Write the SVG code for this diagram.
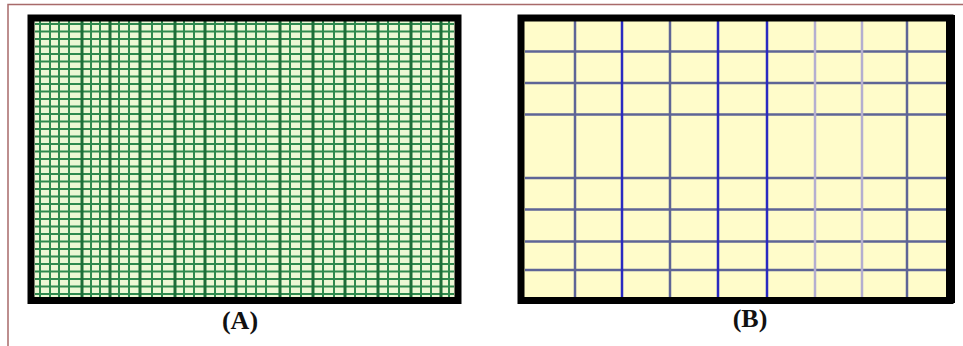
<svg xmlns="http://www.w3.org/2000/svg" width="963" height="346" viewBox="0 0 963 346">
<style>
.frame{fill:none;stroke:#a86a6a;stroke-width:1.5}
.border{fill:none;stroke:#000;}
.ga{stroke:#2f8a4e;stroke-width:2}
.gad{stroke:#1d6e38;stroke-width:3}
.bb{stroke:#2a2ac0;stroke-width:2.5}
.bs{stroke:#5e6496;stroke-width:2.5}
.bl{stroke:#b4aed0;stroke-width:2.5}
.lbl{font-family:"Liberation Serif","Times New Roman",serif;font-weight:bold;font-size:26px;text-anchor:middle;fill:#111}
</style>
<rect width="963" height="346" fill="#ffffff"/>
<path class="frame" d="M8,346 V4.5 H963"/>
<g id="panelA">
<rect x="31" y="18" width="427" height="282" fill="#ecf8d4"/>
<g id="gridA-h" class="ga">
<line x1="35" x2="454" y1="24" y2="24"/><line x1="35" x2="454" y1="31.5" y2="31.5"/><line x1="35" x2="454" y1="39" y2="39"/><line x1="35" x2="454" y1="46.5" y2="46.5"/><line x1="35" x2="454" y1="54" y2="54"/><line x1="35" x2="454" y1="61.5" y2="61.5"/><line x1="35" x2="454" y1="69" y2="69"/><line x1="35" x2="454" y1="76.5" y2="76.5"/><line x1="35" x2="454" y1="84" y2="84"/><line x1="35" x2="454" y1="91.5" y2="91.5"/><line x1="35" x2="454" y1="99" y2="99"/><line x1="35" x2="454" y1="106.5" y2="106.5"/><line x1="35" x2="454" y1="114" y2="114"/><line x1="35" x2="454" y1="121.5" y2="121.5"/><line x1="35" x2="454" y1="129" y2="129"/><line x1="35" x2="454" y1="136.5" y2="136.5"/><line x1="35" x2="454" y1="144" y2="144"/><line x1="35" x2="454" y1="151.5" y2="151.5"/><line x1="35" x2="454" y1="159" y2="159"/><line x1="35" x2="454" y1="166.5" y2="166.5"/><line x1="35" x2="454" y1="174" y2="174"/><line x1="35" x2="454" y1="181.5" y2="181.5"/><line x1="35" x2="454" y1="189" y2="189"/><line x1="35" x2="454" y1="196.5" y2="196.5"/><line x1="35" x2="454" y1="204" y2="204"/><line x1="35" x2="454" y1="211.5" y2="211.5"/><line x1="35" x2="454" y1="219" y2="219"/><line x1="35" x2="454" y1="226.5" y2="226.5"/><line x1="35" x2="454" y1="234" y2="234"/><line x1="35" x2="454" y1="241.5" y2="241.5"/><line x1="35" x2="454" y1="249" y2="249"/><line x1="35" x2="454" y1="256.5" y2="256.5"/><line x1="35" x2="454" y1="264" y2="264"/><line x1="35" x2="454" y1="271.5" y2="271.5"/><line x1="35" x2="454" y1="279" y2="279"/><line x1="35" x2="454" y1="286.5" y2="286.5"/><line x1="35" x2="454" y1="294" y2="294"/>
</g>
<g id="gridA-v">
<line class="ga" x1="40" x2="40" y1="20" y2="298"/><line class="ga" x1="50" x2="50" y1="20" y2="298"/><line class="ga" x1="59" x2="59" y1="20" y2="298"/><line class="ga" x1="69" x2="69" y1="20" y2="298"/><line class="gad" x1="82" x2="82" y1="20" y2="298"/><line class="ga" x1="91" x2="91" y1="20" y2="298"/><line class="ga" x1="100" x2="100" y1="20" y2="298"/><line class="gad" x1="110" x2="110" y1="20" y2="298"/><line class="ga" x1="119" x2="119" y1="20" y2="298"/><line class="ga" x1="129" x2="129" y1="20" y2="298"/><line class="gad" x1="140" x2="140" y1="20" y2="298"/><line class="ga" x1="152" x2="152" y1="20" y2="298"/><line class="ga" x1="162" x2="162" y1="20" y2="298"/><line class="gad" x1="175" x2="175" y1="20" y2="298"/><line class="ga" x1="184" x2="184" y1="20" y2="298"/><line class="ga" x1="194" x2="194" y1="20" y2="298"/><line class="gad" x1="205" x2="205" y1="20" y2="298"/><line class="ga" x1="215" x2="215" y1="20" y2="298"/><line class="ga" x1="225" x2="225" y1="20" y2="298"/><line class="gad" x1="236" x2="236" y1="20" y2="298"/><line class="ga" x1="246" x2="246" y1="20" y2="298"/><line class="ga" x1="256" x2="256" y1="20" y2="298"/><line class="ga" x1="266" x2="266" y1="20" y2="298"/><line class="gad" x1="280" x2="280" y1="20" y2="298"/><line class="ga" x1="290" x2="290" y1="20" y2="298"/><line class="ga" x1="301" x2="301" y1="20" y2="298"/><line class="gad" x1="313" x2="313" y1="20" y2="298"/><line class="ga" x1="323" x2="323" y1="20" y2="298"/><line class="ga" x1="334" x2="334" y1="20" y2="298"/><line class="gad" x1="345" x2="345" y1="20" y2="298"/><line class="ga" x1="355" x2="355" y1="20" y2="298"/><line class="ga" x1="366" x2="366" y1="20" y2="298"/><line class="gad" x1="378" x2="378" y1="20" y2="298"/><line class="ga" x1="388" x2="388" y1="20" y2="298"/><line class="ga" x1="399" x2="399" y1="20" y2="298"/><line class="gad" x1="411" x2="411" y1="20" y2="298"/><line class="ga" x1="421" x2="421" y1="20" y2="298"/><line class="ga" x1="431" x2="431" y1="20" y2="298"/><line class="gad" x1="441" x2="441" y1="20" y2="298"/><line class="ga" x1="449" x2="449" y1="20" y2="298"/>
</g>
<path class="border" d="M31,18 H458 V300.5 H31 Z" stroke-width="7"/>
<text class="lbl" x="240" y="329">(A)</text>
</g>
<g id="panelB">
<rect x="521" y="18" width="430" height="282" fill="#fffcca"/>
<g id="gridB-h" class="bs">
<line x1="525" x2="946" y1="51.5" y2="51.5"/><line x1="525" x2="946" y1="83" y2="83"/><line x1="525" x2="946" y1="114.5" y2="114.5"/><line x1="525" x2="946" y1="178" y2="178"/><line x1="525" x2="946" y1="209.5" y2="209.5"/><line x1="525" x2="946" y1="241.5" y2="241.5"/><line x1="525" x2="946" y1="270" y2="270"/>
</g>
<g id="gridB-v">
<line class="bs" x1="575" x2="575" y1="20" y2="298"/><line class="bb" x1="622" x2="622" y1="20" y2="298"/><line class="bs" x1="670" x2="670" y1="20" y2="298"/><line class="bb" x1="718" x2="718" y1="20" y2="298"/><line class="bb" x1="767" x2="767" y1="20" y2="298"/><line class="bl" x1="815" x2="815" y1="20" y2="298"/><line class="bl" x1="862" x2="862" y1="20" y2="298"/><line class="bs" x1="907" x2="907" y1="20" y2="298"/>
</g>
<path d="M521,18 H950 V300.5 H521 Z" fill="none" stroke="#000" stroke-width="7"/>
<rect x="946" y="15" width="9" height="288" fill="#000"/>
<text class="lbl" x="750" y="327">(B)</text>
</g>
</svg>
